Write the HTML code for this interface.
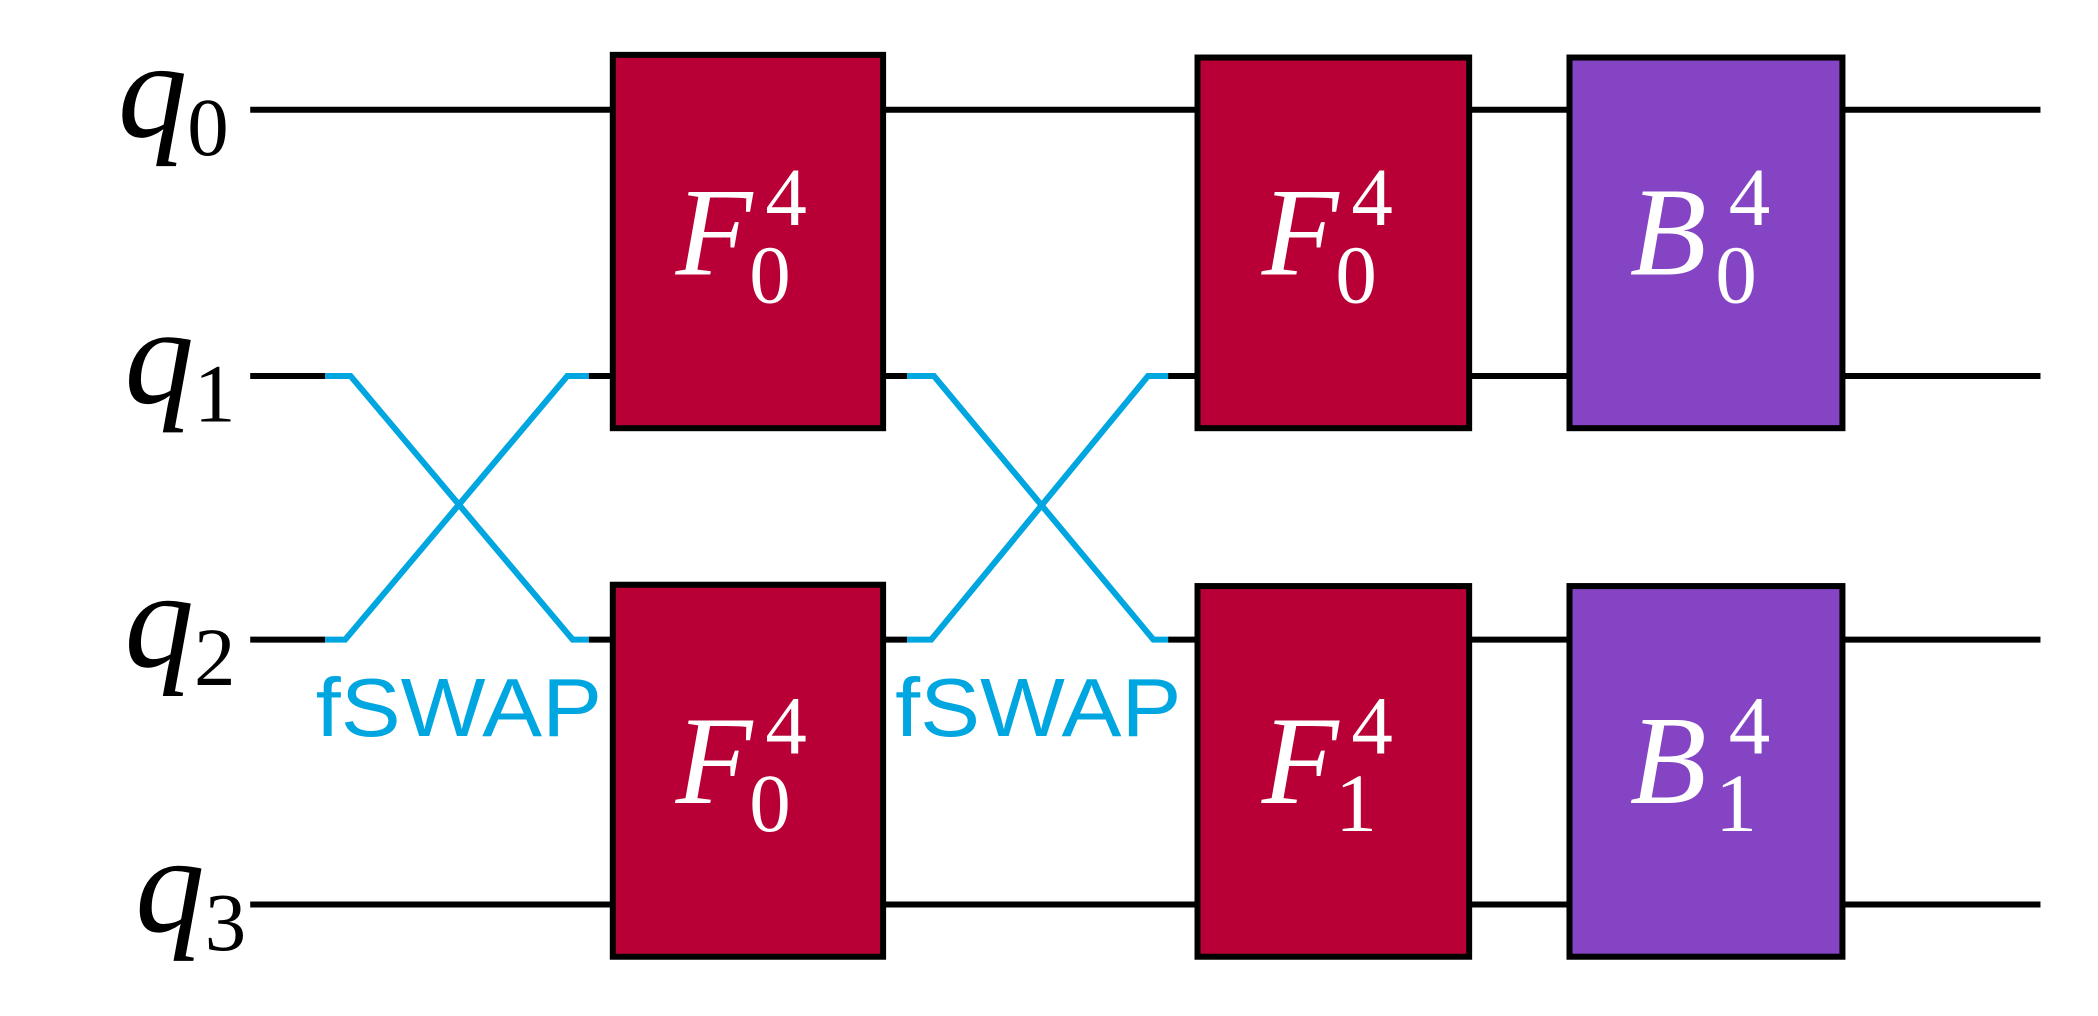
<!DOCTYPE html>
<html><head><meta charset="utf-8"><style>
html,body{margin:0;padding:0;background:#fff;}
svg{display:block;}
text{font-family:"Liberation Serif",serif;}
</style></head><body>
<svg width="2098" height="1016" viewBox="0 0 1568 759.3" preserveAspectRatio="none">
<g stroke="#000" stroke-width="4.5">
<line x1="187" y1="82" x2="1525" y2="82"/>
<line x1="187" y1="281" x2="243" y2="281"/>
<line x1="440" y1="281" x2="678" y2="281"/>
<line x1="873" y1="281" x2="1525" y2="281"/>
<line x1="187" y1="478" x2="243" y2="478"/>
<line x1="440" y1="478" x2="678" y2="478"/>
<line x1="873" y1="478" x2="1525" y2="478"/>
<line x1="187" y1="676" x2="1525" y2="676"/>
</g>
<g font-style="italic" fill="#000">
<text x="88" y="102" font-size="104">q<tspan font-size="62" font-style="normal" dy="14">0</tspan></text>
<text x="93" y="301" font-size="104">q<tspan font-size="62" font-style="normal" dy="14">1</tspan></text>
<text x="93" y="498" font-size="104">q<tspan font-size="62" font-style="normal" dy="14">2</tspan></text>
<text x="101" y="696" font-size="104">q<tspan font-size="62" font-style="normal" dy="14">3</tspan></text>
</g>
<g stroke="#00A6E0" stroke-width="4.5" fill="none">
<polyline points="243,281 262,281 428,478 440,478"/>
<polyline points="243,478 258,478 424,281 440,281"/>
<polyline points="678,281 698,281 862,478 873,478"/>
<polyline points="678,478 696,478 858,281 873,281"/>
</g>
<text x="236" y="550" font-size="62" textLength="214" lengthAdjust="spacingAndGlyphs" fill="#00A6E0" style="font-family:'Liberation Sans',sans-serif">fSWAP</text>
<text x="669" y="550" font-size="62" textLength="214" lengthAdjust="spacingAndGlyphs" fill="#00A6E0" style="font-family:'Liberation Sans',sans-serif">fSWAP</text>
<g stroke="#000" stroke-width="4.5">
<rect x="458" y="41" width="202" height="279" fill="#B90036"/>
<rect x="458" y="437" width="202" height="278" fill="#B90036"/>
<rect x="895" y="43" width="203" height="277" fill="#B90036"/>
<rect x="895" y="438" width="203" height="277" fill="#B90036"/>
<rect x="1173" y="43" width="204" height="277" fill="#8444C4"/>
<rect x="1173" y="438" width="204" height="277" fill="#8444C4"/>
</g>
<g fill="#fff">
<g><text x="505" y="205" font-size="94" font-style="italic">F</text><text x="572" y="168" font-size="62">4</text><text x="560" y="226" font-size="62">0</text></g>
<g><text x="505" y="600" font-size="94" font-style="italic">F</text><text x="572" y="563" font-size="62">4</text><text x="560" y="621" font-size="62">0</text></g>
<g><text x="943" y="205" font-size="94" font-style="italic">F</text><text x="1010" y="168" font-size="62">4</text><text x="998" y="226" font-size="62">0</text></g>
<g><text x="943" y="600" font-size="94" font-style="italic">F</text><text x="1010" y="563" font-size="62">4</text><text x="998" y="621" font-size="62">1</text></g>
<g><text x="1218" y="205" font-size="94" font-style="italic">B</text><text x="1292" y="168" font-size="62">4</text><text x="1282" y="226" font-size="62">0</text></g>
<g><text x="1218" y="600" font-size="94" font-style="italic">B</text><text x="1292" y="563" font-size="62">4</text><text x="1282" y="621" font-size="62">1</text></g>
</g>
</svg>
</body></html>
